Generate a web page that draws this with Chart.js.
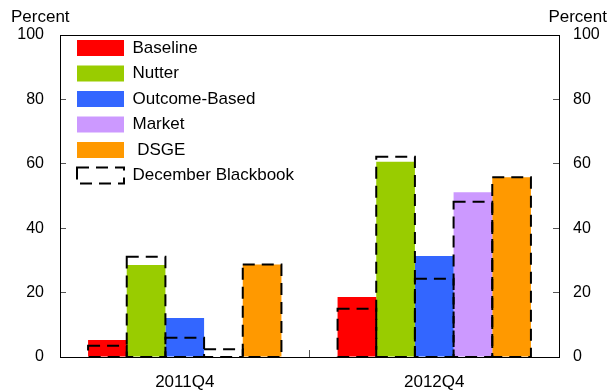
<!DOCTYPE html>
<html>
<head>
  <title>Blackbook comparison</title>
  <script src="https://cdn.jsdelivr.net/npm/chart.js@4.4.0/dist/chart.umd.min.js"></script>
  <style>
    html, body { margin: 0; padding: 0; background: #fff; }
    #wrap { width: 610px; height: 390px; }
  </style>
</head>
<body>
  <div id="wrap"><canvas id="myChart"></canvas></div>
  <script>
    // categories and values (percent)
    var categories = ['2011Q4', '2012Q4'];
    var baseline = [5.3, 18.6];
    var nutter = [28.6, 60.6];
    var outcome = [12.1, 31.4];
    var market = [0, 51.2];
    var dsge = [28.7, 55.8];

    // December Blackbook values (dashed outlines), same order of models
    var bbBaseline = [3.5, 15.0];
    var bbNutter = [31.1, 62.2];
    var bbOutcome = [6.0, 24.3];
    var bbMarket = [2.4, 48.2];
    var bbDsge = [28.7, 55.8];

    var yTicks = [0, 20, 40, 60, 80, 100];

    var names = ['Baseline', 'Nutter', 'Outcome-Based', 'Market', ' DSGE'];
    var colors = ['#FF0000', '#99CC00', '#3366FF', '#CC99FF', '#FF9900'];
    var series = [baseline, nutter, outcome, market, dsge];
    var blackbook = [bbBaseline, bbNutter, bbOutcome, bbMarket, bbDsge];

    var family = '"Liberation Sans", Arial, sans-serif';
    var font = { family: family, size: 16 };

    // dashed outline boxes for the Blackbook, placed on the bars' own x geometry
    var blackbookPlugin = {
      id: 'blackbook',
      afterDatasetsDraw: function(chart) {
        var ctx = chart.ctx;
        var y = chart.scales.y;
        ctx.save();
        ctx.strokeStyle = '#000';
        ctx.lineWidth = 2;
        ctx.setLineDash([12, 7]);
        blackbook.forEach(function(vals, i) {
          var meta = chart.getDatasetMeta(i);
          meta.data.forEach(function(bar, j) {
            var top = y.getPixelForValue(vals[j]);
            var base = y.getPixelForValue(0);
            ctx.strokeRect(bar.x - bar.width / 2, top, bar.width, base - top);
          });
        });
        ctx.restore();
      }
    };

    var framePlugin = {
      id: 'frame',
      afterLayout: function(chart) {
        // put the legend up in the top left corner of the plot
        var lg = chart.legend;
        var a = chart.chartArea;
        var pad = lg.options.labels.padding;
        lg.left = a.left + 17 - pad;
        lg.top = a.top + 4.5 - pad;
        lg.right = a.right;
        lg.bottom = a.bottom;
      },
      afterDraw: function(chart) {
        var ctx = chart.ctx;
        var a = chart.chartArea;
        ctx.save();
        ctx.strokeStyle = '#000';
        ctx.lineWidth = 1;
        ctx.strokeRect(a.left + 0.5, a.top + 0.5, a.right - a.left, a.bottom - a.top);
        ctx.fillStyle = '#000';
        ctx.font = '17px ' + family;
        ctx.textBaseline = 'middle';
        ctx.textAlign = 'left';
        ctx.fillText('Percent', 11, 17);
        ctx.textAlign = 'right';
        ctx.fillText('Percent', 607, 17);
        ctx.restore();
      }
    };

    var ctx = document.getElementById('myChart').getContext('2d');
    var myChart = new Chart(ctx, {
      type: 'bar',
      data: {
        labels: categories,
        datasets: series.map(function(vals, i) {
          return {
            label: names[i],
            data: vals,
            backgroundColor: colors[i],
            borderWidth: 0,
            categoryPercentage: 0.775,
            barPercentage: 1
          };
        })
      },
      options: {
        responsive: true,
        maintainAspectRatio: false,
        animation: false,
        layout: { padding: { top: 35, left: 0, right: 0, bottom: 0 } },
        plugins: {
          tooltip: { enabled: false },
          legend: {
            position: 'chartArea',
            align: 'start',
            labels: {
              boxWidth: 47,
              boxHeight: 16,
              padding: 8.5,
              color: '#000',
              font: { family: family, size: 17 },
              generateLabels: function(chart) {
                var items = names.map(function(n, i) {
                  return { text: n, fillStyle: colors[i], strokeStyle: colors[i], lineWidth: 0, hidden: false, datasetIndex: i };
                });
                items.push({ text: 'December Blackbook', fillStyle: 'rgba(0,0,0,0)', strokeStyle: '#000', lineWidth: 2, lineDash: [12, 7], hidden: false });
                return items;
              }
            }
          }
        },
        scales: {
          x: {
            offset: true,
            grid: { display: true, drawOnChartArea: false, drawTicks: true, tickLength: -7, color: '#555', offset: true },
            border: { display: true, color: '#000' },
            ticks: { color: '#000', font: { family: family, size: 17 }, padding: 22 },
            afterFit: function(s) { s.height = 33; }
          },
          y: {
            min: 0,
            max: 100,
            position: 'left',
            afterBuildTicks: function(s) { s.ticks = yTicks.map(function(v) { return { value: v }; }); },
            grid: { drawOnChartArea: false, drawTicks: true, tickLength: -6, color: '#555' },
            border: { display: true, color: '#000' },
            ticks: { color: '#000', font: font, padding: 22 },
            afterFit: function(s) { s.width = 60; }
          },
          y2: {
            min: 0,
            max: 100,
            position: 'right',
            afterBuildTicks: function(s) { s.ticks = yTicks.map(function(v) { return { value: v }; }); },
            grid: { drawOnChartArea: false, drawTicks: true, tickLength: -6, color: '#555' },
            border: { display: true, color: '#000' },
            ticks: { color: '#000', font: font, padding: 20 },
            afterFit: function(s) { s.width = 51; }
          }
        }
      },
      plugins: [blackbookPlugin, framePlugin]
    });
  </script>
</body>
</html>
